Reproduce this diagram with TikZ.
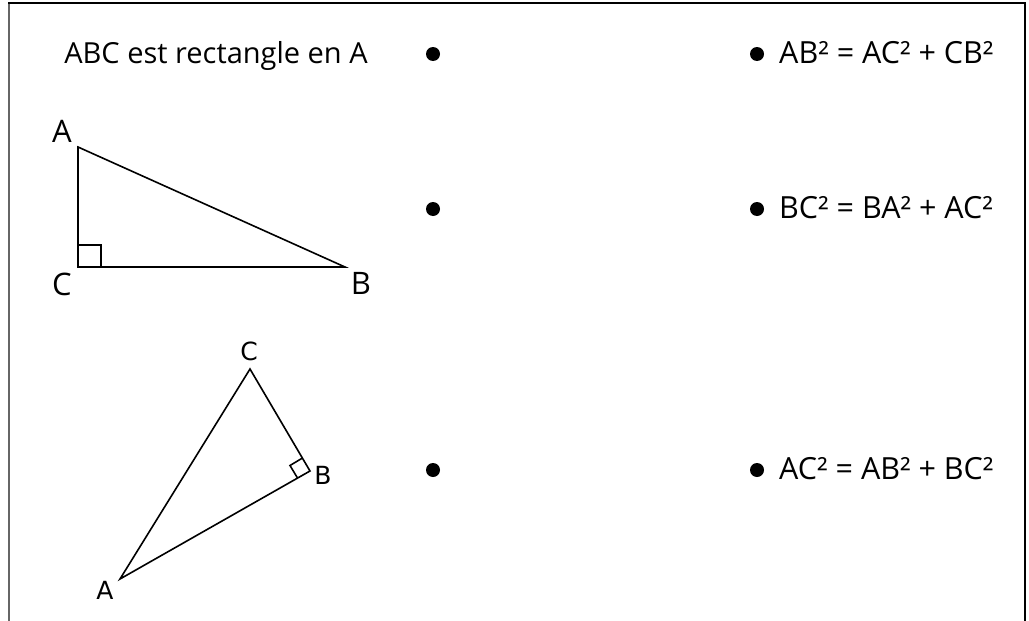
\documentclass[tikz,border=0pt]{standalone}
\usepackage{fontspec}
\setmainfont{Open Sans}
\newfontfamily\labfont{DejaVu Sans}
\begin{document}
\begin{tikzpicture}[x=1pt,y=-1pt,
  tri/.style={draw=black,line width=1.6pt,line join=miter},
  dot/.style={circle,fill=black,inner sep=0pt,minimum size=14pt},
  txt/.style={inner sep=0pt,font=\fontsize{29}{34}\selectfont},
  eq/.style={inner sep=0pt,font=\fontsize{30.5}{36}\selectfont},
  lab/.style={inner sep=0pt,font=\fontsize{31}{36}\selectfont},
  labs/.style={inner sep=0pt,font=\labfont\fontsize{25}{30}\selectfont}]
\useasboundingbox (0,0) rectangle (1029,621);
% frame
\draw[line width=2.5pt,gray!80!black] (9,3) -- (9,621);
\draw[line width=1.5pt] (8,3) -- (1025,3) -- (1025,621);
% title
\node[txt,anchor=base] (title) at (216,63) {ABC est rectangle en A};
% dots
\node[dot] (l1) at (433,54) {};
\node[dot] (l2) at (433,209) {};
\node[dot] (l3) at (433,470) {};
\node[dot] (r1) at (757,54) {};
\node[dot] (r2) at (757,209) {};
\node[dot] (r3) at (757,470) {};
% equations
\node[eq,anchor=base west] (e1) at (779,63) {AB² = AC² + CB²};
\node[eq,anchor=base west] (e2) at (779,218) {BC² = BA² + AC²};
\node[eq,anchor=base west] (e3) at (779,479) {AC² = AB² + BC²};
% triangle 1
\coordinate (A1) at (78,147);
\coordinate (C1) at (78,267);
\coordinate (B1) at (345,267);
\draw[tri] (A1) -- (C1) -- (B1) -- cycle;
\draw[tri] (78,245) -- (101,245) -- (101,267);
\node[lab] (lA1) at (62,131) {A};
\node[lab] (lC1) at (62,284) {C};
\node[lab] (lB1) at (361,283) {B};
% triangle 2
\coordinate (A2) at (120,579);
\coordinate (B2) at (310,471);
\coordinate (C2) at (250,369);
\draw[tri] (A2) -- (B2) -- (C2) -- cycle;
\draw[tri] (302.5,458) -- (290,465.5) -- (297.5,478);
\node[labs] (lC2) at (249,351) {C};
\node[labs] (lB2) at (323,475) {B};
\node[labs] (lA2) at (105,590) {A};
\end{tikzpicture}
\end{document}
